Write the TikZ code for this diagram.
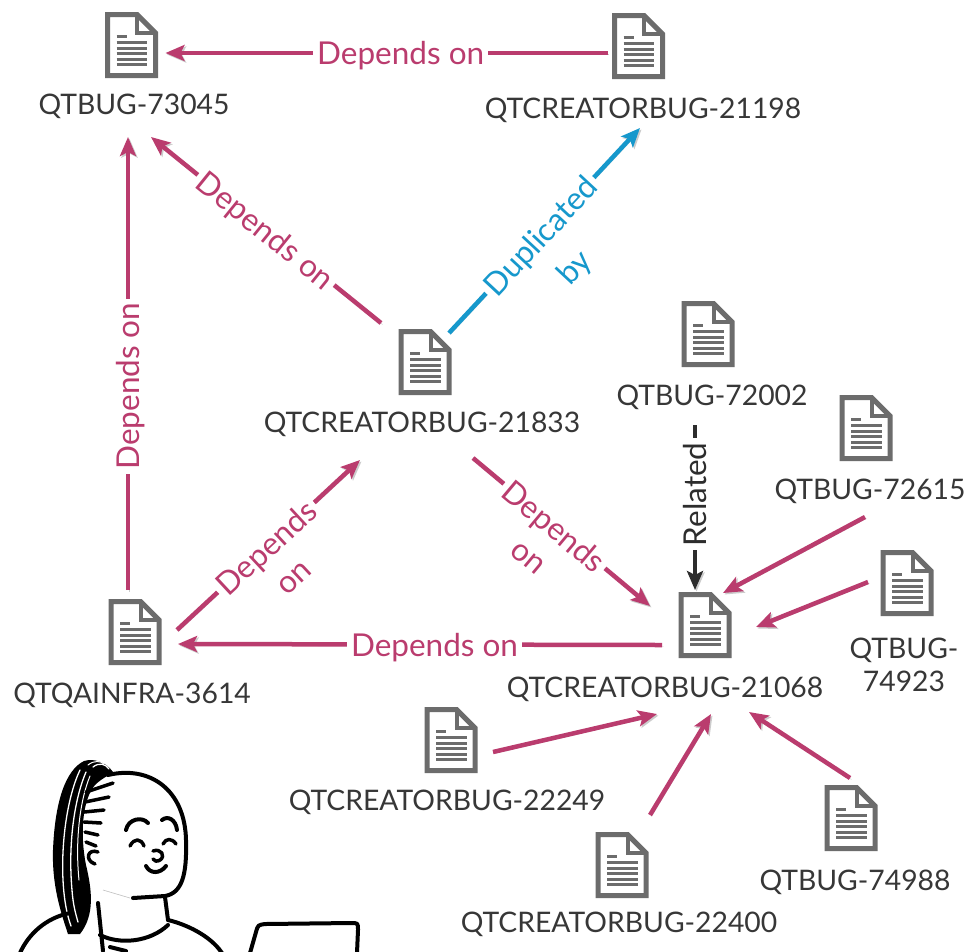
\documentclass[tikz,border=0pt]{standalone}
\usepackage{fontspec}
\setmainfont{Lato}
\usetikzlibrary{arrows.meta}

\definecolor{depcol}{RGB}{186,60,110}
\definecolor{dupcol}{RGB}{22,152,204}
\definecolor{relcol}{RGB}{45,45,45}
\definecolor{iconcol}{RGB}{108,108,108}
\definecolor{txtcol}{RGB}{55,55,55}

\tikzset{
  docicon/.pic={
    \draw[iconcol, line width=5pt] (-24,-30.5) -- (5.5,-30.5) -- (24,-12) -- (24,30.5) -- (-24,30.5) -- cycle;
    \draw[iconcol, line width=4pt] (5.5,-30.5) -- (5.5,-12) -- (24,-12);
    \draw[iconcol, line width=3pt] (-14.8,-8.3) -- (-4.8,-8.3);
    \foreach \yy in {-2.5,3,8.5,14,19.5}
      \draw[iconcol, line width=3pt] (-14.8,\yy) -- (15.8,\yy);
  },
  docnode/.style={minimum width=53pt, minimum height=66pt, inner sep=0pt},
  idlabel/.style={text=txtcol, font=\fontsize{28.3}{33}\selectfont, inner sep=0pt, anchor=base, align=center},
  linkbase/.style={line width=4.5pt, -{Stealth[length=19pt,width=16pt,inset=4pt]},
    preaction={draw=black!20, transform canvas={shift={(1.5pt,-1.5pt)}}}},
  deplink/.style={linkbase, draw=depcol},
  duplink/.style={linkbase, draw=dupcol},
  rellink/.style={linkbase, draw=relcol},
  edgetag/.style={fill=white, font=\fontsize{31.5}{36}\selectfont, inner xsep=4pt, inner ysep=2pt, text depth=0pt},
  edgesub/.style={font=\fontsize{31.5}{36}\selectfont, inner xsep=0pt, inner ysep=32pt, anchor=north},
  girl/.style={line width=4pt, line cap=round, line join=round, black},
  strand/.style={white, line width=1.3pt, line cap=round},
}

\begin{document}
\begin{tikzpicture}[x=1pt,y=-1pt]
\useasboundingbox (0,0) rectangle (973,951);
\fill[white] (0,0) rectangle (973,951);

% issue icons
\node[docnode] (d73045) at (131.5,45) {};  \pic at (d73045) {docicon};
\node[docnode] (d21198) at (638.5,46) {};  \pic at (d21198) {docicon};
\node[docnode] (d21833) at (425,362) {};   \pic at (d21833) {docicon};
\node[docnode] (d72002) at (708,334) {};   \pic at (d72002) {docicon};
\node[docnode] (d72615) at (866,428) {};   \pic at (d72615) {docicon};
\node[docnode] (d74923) at (907,583) {};   \pic at (d74923) {docicon};
\node[docnode] (d21068) at (705,625) {};   \pic at (d21068) {docicon};
\node[docnode] (d3614)  at (135,632) {};   \pic at (d3614) {docicon};
\node[docnode] (d22249) at (451,740) {};   \pic at (d22249) {docicon};
\node[docnode] (d22400) at (622,865) {};   \pic at (d22400) {docicon};
\node[docnode] (d74988) at (851,818) {};   \pic at (d74988) {docicon};

% issue keys
\node[idlabel] (t73045) at (134,114) {QTBUG-73045};
\node[idlabel] (t21198) at (643,118) {QTCREATORBUG-21198};
\node[idlabel] (t21833) at (422,432) {QTCREATORBUG-21833};
\node[idlabel] (t72002) at (712,405) {QTBUG-72002};
\node[idlabel] (t72615) at (870,499) {QTBUG-72615};
\node[idlabel, anchor=north] (t74923) at (904,638) {QTBUG-\\74923};
\node[idlabel] (t21068) at (665,697) {QTCREATORBUG-21068};
\node[idlabel] (t3614)  at (132,703) {QTQAINFRA-3614};
\node[idlabel] (t22249) at (447,810) {QTCREATORBUG-22249};
\node[idlabel] (t22400) at (619,932) {QTCREATORBUG-22400};
\node[idlabel] (t74988) at (855,890) {QTBUG-74988};

% dependency links
\draw[deplink] ([shift={(-31,7)}]d21198.center) --
  node[edgetag, text=depcol, pos=0.468] {Depends on} ([shift={(34,8)}]d73045.center);
\draw[deplink] ([shift={(-44,-39)}]d21833.center) --
  node[edgetag, text=depcol, sloped, pos=0.5] {Depends on} ([shift={(17,23)}]t73045.base);
\draw[deplink] ([shift={(-7,-42)}]d3614.center) --
  node[edgetag, text=depcol, sloped, pos=0.45] {Depends on} ([shift={(-6,23)}]t73045.base);
\draw[deplink] ([shift={(42,-2)}]d3614.center) --
  node[edgetag, text=depcol, sloped, pos=0.486] {Depends}
  node[edgesub, text=depcol, sloped, pos=0.486] {on} ([shift={(-62,28)}]t21833.base);
\draw[deplink] ([shift={(51,26)}]t21833.base) --
  node[edgetag, text=depcol, sloped, pos=0.46] {Depends}
  node[edgesub, text=depcol, sloped, pos=0.46] {on} ([shift={(-55,-19)}]d21068.center);
\draw[deplink] ([shift={(-43,20)}]d21068.center) --
  node[edgetag, text=depcol, pos=0.47] {Depends on} ([shift={(43,12)}]d3614.center);

% duplicate and related links
\draw[duplink] ([shift={(24,-29)}]d21833.center) --
  node[edgetag, text=dupcol, sloped, pos=0.476] {Duplicated}
  node[edgesub, text=dupcol, sloped, pos=0.476] {by} ([shift={(-3,10)}]t21198.base);
\draw[rellink] ([shift={(-17,20)}]t72002.base) --
  node[edgetag, text=relcol, rotate=90, pos=0.42] {Related} ([shift={(-10,-35)}]d21068.center);

% incoming links of QTCREATORBUG-21068
\draw[deplink] ([shift={(-5,18)}]t72615.base) -- ([shift={(18,-32)}]d21068.center);
\draw[deplink] ([shift={(-39,-1)}]d74923.center) -- ([shift={(51,2)}]d21068.center);
\draw[deplink] ([shift={(42,12)}]d22249.center) -- ([shift={(-8,17)}]t21068.base);
\draw[deplink] ([shift={(28,-50)}]d22400.center) -- ([shift={(46,17)}]t21068.base);
\draw[deplink] ([shift={(-1,-40)}]d74988.center) -- ([shift={(84,15)}]t21068.base);

% person at the laptop
\begin{scope}
\clip (0,0) rectangle (973,951);
% face
\fill[white] (108,775) .. controls (150,765) and (185,790) .. (186,840)
  .. controls (187,875) and (180,895) .. (160,897) -- (130,897) -- (95,880) -- (85,800) -- cycle;
\draw[girl] (108,775) .. controls (150,765) and (185,790) .. (186,840)
  .. controls (187,875) and (182,893) .. (165,896) -- (133,898);
\draw[black!25, line width=0.6pt] (103,890) -- (130,898);
% ponytail
\fill[black] (84,761) .. controls (66,770) and (55,800) .. (53,850)
  .. controls (52,885) and (60,910) .. (68,934) -- (80,934)
  .. controls (95,915) and (92,890) .. (86,865)
  .. controls (80,835) and (82,800) .. (95,785)
  .. controls (102,778) and (110,775) .. (113,772)
  .. controls (106,762) and (94,758) .. (84,761) -- cycle;
\draw[strand] (80,770) .. controls (68,795) and (61,840) .. (63,880) .. controls (64,900) and (67,915) .. (71,926);
\draw[strand] (86,772) .. controls (74,800) and (68,845) .. (72,890) .. controls (73,905) and (76,915) .. (78,922);
\draw[strand, line width=1pt] (90,776) .. controls (80,800) and (75,840) .. (79,880);
\draw[strand] (93,767) .. controls (99,762) and (106,764) .. (109,769);
\draw[strand, line width=1pt] (88,765) .. controls (94,760) and (101,761) .. (104,764);
% hair strokes
\draw[girl, line width=3.5pt] (86,792) -- (113,783);
\draw[girl, line width=3.5pt] (85,802) -- (109,797);
\draw[girl, line width=3.5pt] (84,812) -- (104,810);
\draw[girl, line width=3.5pt] (84,822) -- (101,823);
\draw[girl, line width=3.5pt] (85,832) -- (98,835);
\draw[girl, line width=3.5pt] (86,842) -- (96,846);
% ear
\draw[girl, line width=3.5pt] (98,852) .. controls (88,848) and (84,860) .. (95,864);
% eyebrows, eyes, nose, mouth
\draw[girl] (126,830) .. controls (128,819) and (142,816) .. (148,823);
\draw[girl] (162,820) .. controls (168,815) and (176,820) .. (177,830);
\draw[girl, line width=3.5pt] (130,846) .. controls (134,838) and (141,838) .. (144,846);
\draw[girl, line width=3.5pt] (163,844) .. controls (166,838) and (172,838) .. (176,844);
\draw[girl, line width=3.5pt] (153,851) .. controls (161,848) and (166,856) .. (160,860) .. controls (157,862) and (154,861) .. (153,859);
\draw[girl] (146,866) .. controls (150,874) and (160,874) .. (166,866);
% neck, collar and shoulders
\draw[girl] (98,903) -- (103,951);
\draw[girl] (165,897) -- (168,920);
\draw[girl] (100,935) .. controls (120,945) and (150,942) .. (168,925);
\draw[girl] (110,947) -- (126,951);
\draw[girl] (168,920) .. controls (185,924) and (210,935) .. (222,953);
\draw[girl] (70,913) .. controls (45,918) and (28,935) .. (20,953);
% laptop lid
\draw[girl] (250,953) -- (256,932) .. controls (258,925) .. (265,924) -- (351,923)
  .. controls (358,923) .. (358,930) -- (357,953);
\end{scope}
\end{tikzpicture}
\end{document}
